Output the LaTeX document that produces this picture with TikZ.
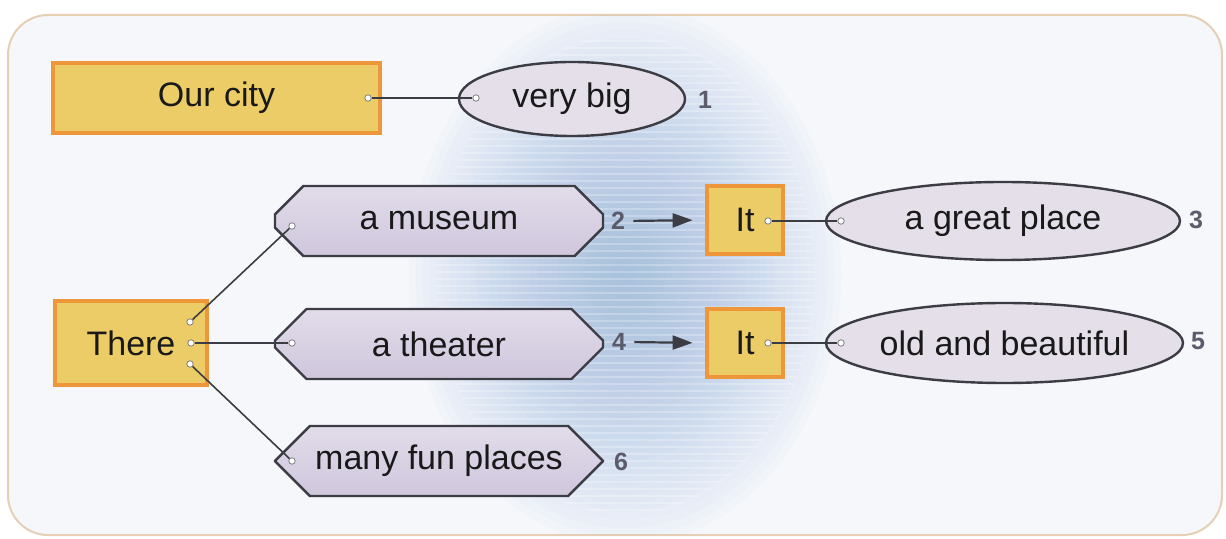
\documentclass[tikz,border=0pt]{standalone}
\usepackage{fontspec}
\setmainfont{Liberation Sans}
\usetikzlibrary{shapes.geometric,shapes.misc,arrows.meta}
\definecolor{yel}{HTML}{EBCC66}
\definecolor{org}{HTML}{EE963A}
\definecolor{lav}{HTML}{E4DFE9}
\definecolor{octtop}{HTML}{E2DCEA}
\definecolor{octbot}{HTML}{CFC6DC}
\definecolor{edge}{HTML}{3C3C44}
\definecolor{num}{HTML}{5B5B6B}
\definecolor{framec}{HTML}{E6CFB4}
\definecolor{bg}{HTML}{F5F7FA}
\definecolor{glow}{HTML}{8FB0DE}
\begin{document}
\begin{tikzpicture}[x=0.5pt,y=-0.5pt,
  txt/.style={font=\fontsize{17}{20}\selectfont, text=black!90},
  ybox/.style={txt, draw=org, line width=2.4pt, fill=yel, inner sep=0pt},
  oval/.style={txt, ellipse, draw=edge, line width=1.2pt, fill=lav, inner sep=0pt},
  octo/.style={txt, chamfered rectangle, chamfered rectangle xsep=9.5pt, chamfered rectangle ysep=9.5pt,
     draw=edge, line width=1.2pt, top color=octtop, bottom color=octbot, inner sep=0pt,
     minimum width=164pt, minimum height=35pt},
  numlab/.style={font=\bfseries\fontsize{12.5}{14}\selectfont, text=num, inner sep=1pt},
  conn/.style={draw=edge, line width=0.8pt},
  dotc/.style={circle, draw=gray, fill=white, inner sep=0pt, minimum size=3.2pt, line width=0.4pt},
  arr/.style={-{Triangle[length=10pt,width=7pt]}, line width=1.1pt, draw=edge}
]
\useasboundingbox (0,0) rectangle (1226,539);
% frame and background
\fill[white] (0,0) rectangle (1226,539);
\draw[framec, fill=bg, line width=1pt, rounded corners=20pt] (8,15) rectangle (1222,535);
\begin{scope}
  \clip[rounded corners=20pt] (8,15) rectangle (1222,535);
  \foreach \r in {1,...,32}
    \fill[glow, opacity=0.032] (625,275) ellipse [x radius={\r*108pt/32}, y radius={\r*135pt/32}];
  \begin{scope}
    \clip (625,275) ellipse [x radius=95pt, y radius=120pt];
    \foreach \yy in {20,27,...,530} \draw[white, opacity=0.25, line width=0.8pt] (380,\yy) -- (870,\yy);
  \end{scope}
\end{scope}

% boxes
\node[ybox, minimum width=163.5pt, minimum height=35pt] (city) at (216.5,98) {Our city};
\node[oval, minimum width=113pt, minimum height=37pt] (big) at (572,99) {very big};
\node[numlab] (n1) at (705,100) {1};

\node[ybox, minimum width=76pt, minimum height=42pt] (there) at (131,343) {There};

\node[octo] (mus) at (439,221) {a museum};
\node[octo] (thea) at (439,344) {a theater};
\node[octo] (fun) at (439,461) {many fun places};
\node[numlab] (n2) at (618,221) {2};
\node[numlab] (n4) at (619,342) {4};
\node[numlab] (n6) at (621,462) {6};

\node[ybox, minimum width=38pt, minimum height=34pt] (it1) at (745,220) {It};
\node[ybox, minimum width=38pt, minimum height=34pt] (it2) at (745,343) {It};

\node[oval, minimum width=177pt, minimum height=39pt] (great) at (1003,221) {a great place};
\node[oval, minimum width=178.5pt, minimum height=40pt] (old) at (1004.5,343) {old and beautiful};
\node[numlab] (n3) at (1196,220) {3};
\node[numlab] (n5) at (1198,341) {5};

% dots
\node[dotc] (d1) at (368,98) {};
\node[dotc] (d2) at (476,98) {};
\node[dotc] (t1) at (190,322) {};
\node[dotc] (t2) at (191,343) {};
\node[dotc] (t3) at (190,364) {};
\node[dotc] (m1) at (292,226) {};
\node[dotc] (m2) at (292,343) {};
\node[dotc] (m3) at (292,461) {};
\node[dotc] (i1) at (768,221) {};
\node[dotc] (g1) at (841,221) {};
\node[dotc] (i2) at (768,343) {};
\node[dotc] (g2) at (841,343) {};

% connectors
\draw[conn] (d1) -- (d2);
\draw[conn] (t1) -- (m1);
\draw[conn] (t2) -- (m2);
\draw[conn] (t3) -- (m3);
\draw[conn] (i1) -- (g1);
\draw[conn] (i2) -- (g2);
\draw[arr, shorten <=3pt, shorten >=6pt] (n2.east) -- (it1.west);
\draw[arr, shorten <=3pt, shorten >=6pt] (n4.east) -- (it2.west);
\end{tikzpicture}
\end{document}
